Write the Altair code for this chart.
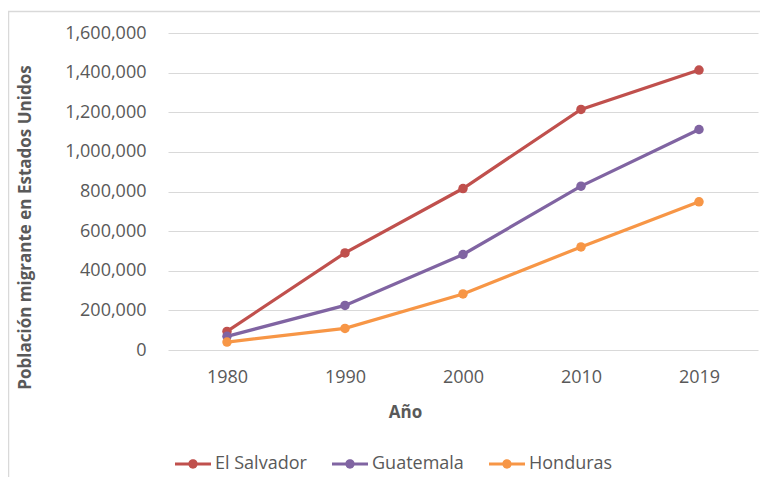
import altair as alt
import pandas as pd

years = ["1980", "1990", "2000", "2010", "2019"]
el_salvador = [94000, 490000, 815000, 1214000, 1413000]
guatemala = [69000, 225000, 482000, 827000, 1113000]
honduras = [40000, 109000, 283000, 520000, 748000]
countries = ["El Salvador", "Guatemala", "Honduras"]
colors = ["#C0504D", "#8064A2", "#F79646"]

rows = []
for name, vals in zip(countries, [el_salvador, guatemala, honduras]):
    for y, v in zip(years, vals):
        rows.append({"Año": y, "País": name, "Valor": v})
df = pd.DataFrame(rows)

FONT = "Open Sans"
GREY = "#595959"

legend_symbol = ("M-1,-0.09H1V0.09H-1Z "
                 "M0.26,0A0.26,0.26 0 1,1 -0.26,0A0.26,0.26 0 1,1 0.26,0Z")

x_enc = alt.X("Año:O", scale=alt.Scale(type="point", padding=0.5),
              axis=alt.Axis(title="Año", labelAngle=0, ticks=False, tickSize=0,
                            domain=False, grid=False, labelPadding=27,
                            labelBaseline="middle", titleX=237, titleY=62,
                            titleBaseline="middle", titleAlign="center"))
y_enc = alt.Y("Valor:Q", scale=alt.Scale(domain=[0, 1600000], nice=False),
              axis=alt.Axis(title="Población migrante en Estados Unidos",
                            values=[0, 200000, 400000, 600000, 800000, 1000000,
                                    1200000, 1400000, 1600000],
                            format=",d", ticks=False, tickSize=0, domain=False,
                            labelPadding=22, titleX=-143, titleY=194,
                            titleBaseline="middle", titleAlign="center",
                            titleAngle=270))
color_scale = alt.Scale(domain=countries, range=colors)
legend = alt.Legend(title=None, orient="none", direction="horizontal",
                    legendX=7, legendY=413,
                    symbolType=legend_symbol, symbolSize=1296,
                    symbolStrokeWidth=0, symbolOpacity=1, labelOffset=4,
                    columnPadding=25, labelFont=FONT,
                    labelFontSize=18, labelColor=GREY)

base = alt.Chart(df)
lines = base.mark_line(strokeWidth=3.2).encode(
    x=x_enc, y=y_enc,
    color=alt.Color("País:N", scale=color_scale, legend=legend),
)
points = base.mark_point(filled=True, size=90, opacity=1).encode(
    x=x_enc, y=y_enc,
    color=alt.Color("País:N", scale=color_scale, legend=legend),
)
frame = alt.Chart(pd.DataFrame({"a": [0]})).mark_rect(
    fill=None, stroke="#D9D9D9", strokeWidth=1.5
).encode(
    x=alt.value(-159.5), x2=alt.value(700), y=alt.value(-21.5), y2=alt.value(500)
)

chart = alt.layer(frame, lines, points).properties(
    width=590, height=317,
    padding={"left": 160, "top": 25, "right": 2, "bottom": 127},
    autosize=alt.AutoSizeParams(type="none"),
).configure_view(stroke=None).configure_axis(
    labelFont=FONT, labelFontSize=18, labelColor=GREY,
    titleFont=FONT, titleFontSize=17, titleFontWeight="bold", titleColor=GREY,
    gridColor="#D9D9D9", gridWidth=1,
)

chart.save("out.html", embed_options={"renderer": "svg", "actions": False})
